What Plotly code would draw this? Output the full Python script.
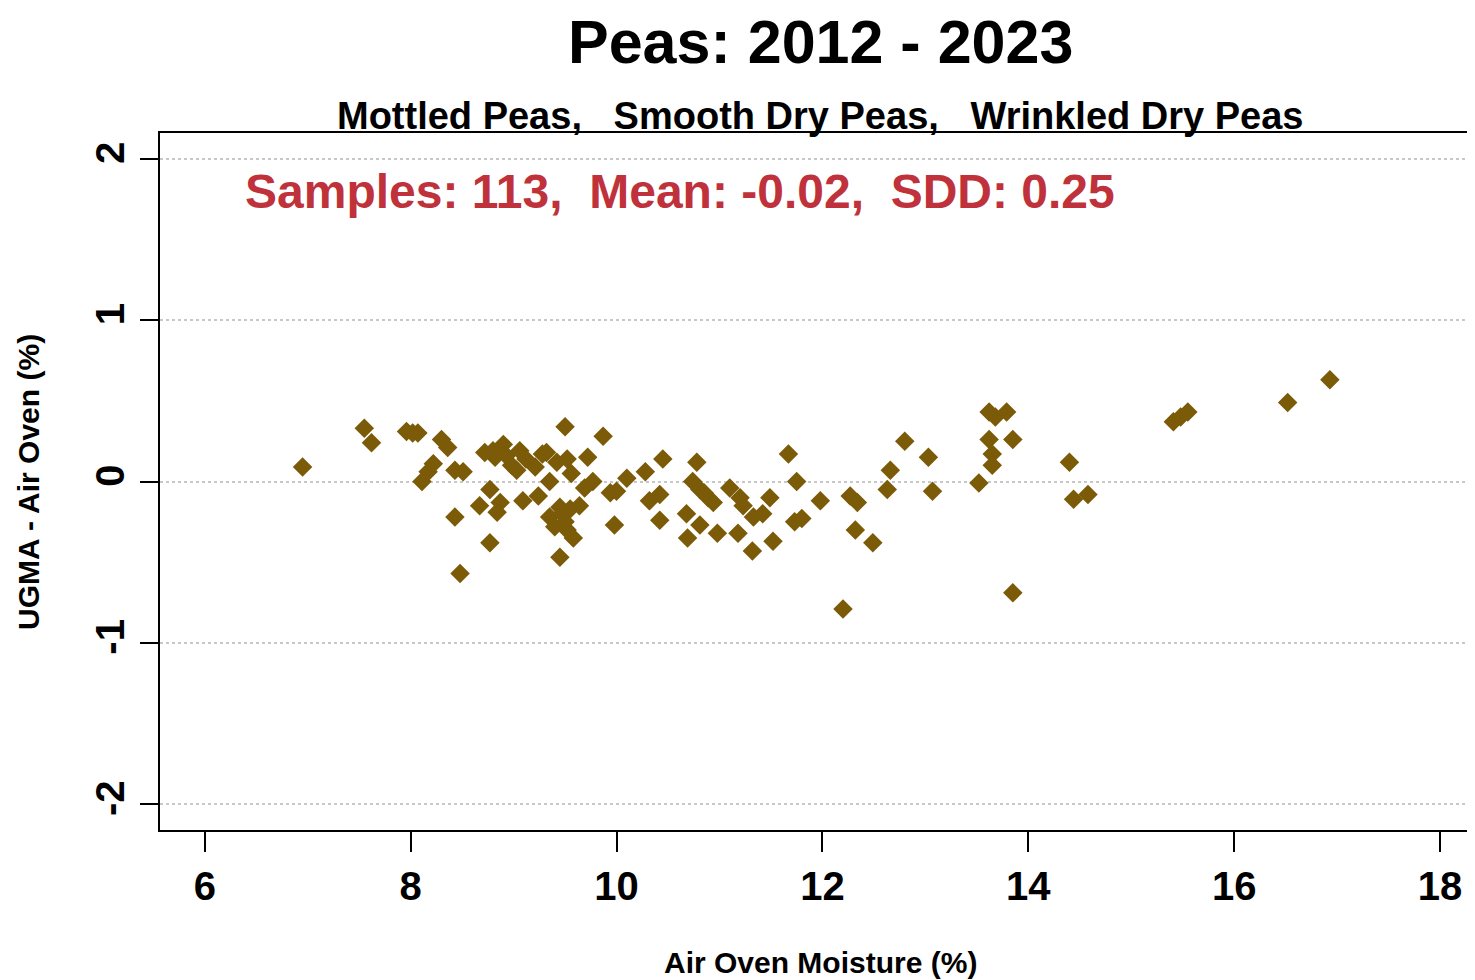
import plotly.graph_objects as go

title_text = "Peas: 2012 - 2023"
subtitle_text = "Mottled Peas,   Smooth Dry Peas,   Wrinkled Dry Peas"
stats_text = "Samples: 113,  Mean: -0.02,  SDD: 0.25"
x_title = "Air Oven Moisture (%)"
y_title = "UGMA - Air Oven (%)"
x_ticks = [6, 8, 10, 12, 14, 16, 18]
y_ticks = [-2, -1, 0, 1, 2]

air_oven = [
    6.95, 7.55, 7.62, 7.96, 8.07, 8.30, 8.36, 8.22, 8.17, 8.11,
    8.43, 8.51, 8.43, 8.48, 8.77, 8.77, 8.67, 8.87, 8.84, 8.72,
    8.90, 8.93, 9.06, 9.03, 8.82, 9.21, 9.32, 9.42, 9.52, 9.72,
    9.56, 9.35, 9.77, 9.69, 9.94, 10.00, 10.10, 9.09, 9.24, 9.35,
    9.45, 9.55, 9.64, 9.40, 9.52, 9.58, 9.98, 9.45, 9.50, 9.87,
    10.28, 10.45, 10.78, 10.74, 10.81, 10.89, 10.94, 10.32, 10.42, 10.42,
    10.68, 10.81, 10.69, 10.98, 11.10, 11.20, 11.23, 11.49, 11.33, 11.42,
    11.18, 11.32, 11.52, 11.67, 11.75, 11.73, 11.80, 11.98, 12.27, 12.34,
    12.32, 12.49, 12.20, 12.80, 13.03, 12.66, 12.63, 13.07, 13.52, 13.62,
    13.65, 13.65, 13.62, 13.68, 13.79, 13.85, 13.85, 14.40, 14.44, 14.58,
    15.41, 15.55, 16.52, 16.93, 9.28, 8.98, 9.47, 9.50, 10.85, 15.48,
    9.12, 8.80, 8.02,
]
difference = [
    0.09, 0.33, 0.24, 0.31, 0.30, 0.26, 0.21, 0.11, 0.06, 0.00,
    0.07, 0.06, -0.22, -0.57, -0.38, -0.05, -0.15, -0.13, -0.19, 0.18,
    0.23, 0.16, 0.19, 0.07, 0.15, 0.09, 0.18, 0.12, 0.14, 0.15,
    0.05, 0.00, 0.00, -0.04, -0.07, -0.06, 0.02, -0.12, -0.09, -0.22,
    -0.16, -0.17, -0.15, -0.28, -0.30, -0.35, -0.27, -0.47, 0.34, 0.28,
    0.06, 0.14, 0.12, 0.00, -0.05, -0.10, -0.13, -0.12, -0.08, -0.24,
    -0.20, -0.27, -0.35, -0.32, -0.04, -0.10, -0.15, -0.10, -0.22, -0.20,
    -0.32, -0.43, -0.37, 0.17, 0.00, -0.25, -0.23, -0.12, -0.09, -0.13,
    -0.30, -0.38, -0.79, 0.25, 0.15, 0.07, -0.05, -0.06, -0.01, 0.26,
    0.17, 0.10, 0.43, 0.40, 0.43, 0.26, -0.69, 0.12, -0.11, -0.08,
    0.37, 0.43, 0.49, 0.63, 0.17, 0.10, -0.20, -0.25, -0.07, 0.40,
    0.14, 0.19, 0.30,
]

FONT = "Liberation Sans, Arial, sans-serif"
OFF = 8  # page body margin offset
W, H = 1475 - OFF, 980 - OFF
L, R, T, B = 160 - OFF, 0, 133 - OFF, 980 - 830
PW, PH = W - L - R, H - T - B


def px(xp):
    return (xp - OFF - L) / PW


def py(yp):
    return (H - B - (yp - OFF)) / PH


fig = go.Figure()
fig.add_trace(go.Scatter(
    x=air_oven, y=difference, mode="markers",
    marker=dict(symbol="diamond", size=15, color="#7B5B07", line=dict(width=0)),
    hoverinfo="skip", showlegend=False,
))

fig.update_layout(
    width=W, height=H,
    margin=dict(l=L, r=R, t=T, b=B, pad=0),
    paper_bgcolor="white", plot_bgcolor="white",
    font=dict(family=FONT, color="black"),
    showlegend=False,
    xaxis=dict(
        range=[5.565, 18.34], tickvals=x_ticks, ticktext=[str(v) for v in x_ticks],
        showgrid=False, zeroline=False, showline=True, linecolor="black", linewidth=2,
        mirror=True, ticks="outside", ticklen=20, tickwidth=2, tickcolor="black",
        tickfont=dict(family=FONT, size=40, color="black", weight="bold"),
        ticklabelstandoff=0,
    ),
    yaxis=dict(
        range=[-2.16, 2.16], tickvals=y_ticks, ticktext=[str(v) for v in y_ticks],
        showgrid=True, gridcolor="#c8c8c8", griddash="dot", gridwidth=1.5,
        zeroline=False, showline=True, linecolor="black", linewidth=2,
        ticks="outside", ticklen=18, tickwidth=2, tickcolor="black",
        tickangle=-90,
        tickfont=dict(family=FONT, size=40, color="black", weight="bold"),
        ticklabelstandoff=0,
    ),
    annotations=[
        dict(text=title_text, xref="paper", yref="paper", x=px(820), y=py(42),
             xanchor="center", yanchor="middle", showarrow=False,
             font=dict(family=FONT, size=61, color="black", weight="bold")),
        dict(text=subtitle_text.replace(" ", "\u00a0"), xref="paper", yref="paper",
             x=px(820), y=py(116), xanchor="center", yanchor="middle", showarrow=False,
             font=dict(family=FONT, size=38, color="black", weight="bold")),
        dict(text=stats_text.replace(" ", "\u00a0"), xref="paper", yref="paper",
             x=px(243), y=py(192), xanchor="left", yanchor="middle", showarrow=False,
             font=dict(family=FONT, size=48, color="#C0323B", weight="bold")),
        dict(text=x_title, xref="paper", yref="paper", x=px(820), y=py(962),
             xanchor="center", yanchor="middle", showarrow=False,
             font=dict(family=FONT, size=30, color="black", weight="bold")),
        dict(text=y_title, xref="paper", yref="paper", x=px(28), y=py(482),
             xanchor="center", yanchor="middle", showarrow=False, textangle=-90,
             font=dict(family=FONT, size=30, color="black", weight="bold")),
    ],
)

fig.write_html("out.html")
